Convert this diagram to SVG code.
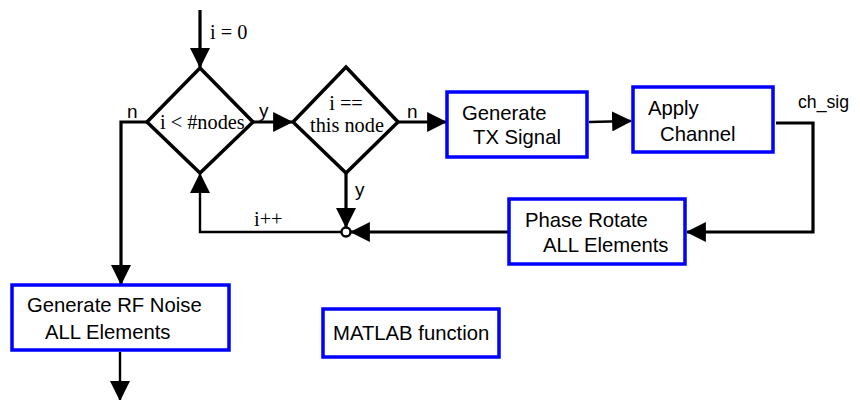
<svg xmlns="http://www.w3.org/2000/svg" width="860" height="400" viewBox="0 0 860 400">
<style>
.box{fill:#fff;stroke:#0000ff;stroke-width:3.5}
.dia{fill:#fff;stroke:#000;stroke-width:3.5;stroke-linejoin:miter}
.ln{fill:none;stroke:#000;stroke-width:3.2}
.thin{fill:none;stroke:#000;stroke-width:2.4}
.sans{font-family:"Liberation Sans",Arial,sans-serif;font-size:20.3px;fill:#000}
.lbl{font-family:"Liberation Sans",Arial,sans-serif;font-size:19px;fill:#000}
.serif{font-family:"Liberation Serif","Times New Roman",serif;font-size:20.3px;fill:#000}
</style>
<defs>
<marker id="ah" markerUnits="userSpaceOnUse" markerWidth="20" markerHeight="20" viewBox="0 0 18 18" refX="17" refY="9" orient="auto">
<path d="M0,0 L18,9 L0,18 z" fill="#000"/>
</marker>
</defs>
<rect width="860" height="400" fill="#fff"/>
<g id="connectors">
<path class="ln" d="M200,10 L200,67" marker-end="url(#ah)"/>
<path class="ln" d="M253,122 L292,122" marker-end="url(#ah)"/>
<path class="ln" d="M398,122 L446,122" marker-end="url(#ah)"/>
<path class="thin" d="M589,122 L631,121" marker-end="url(#ah)"/>
<path class="ln" d="M776,123 L813,123 L813,232 L687,232" marker-end="url(#ah)"/>
<path class="ln" d="M508,232 L351,232" marker-end="url(#ah)"/>
<path class="ln" d="M346,173 L346,227" marker-end="url(#ah)"/>
<path class="thin" d="M341,232 L200,232 L200,174" marker-end="url(#ah)"/>
<path class="ln" d="M147,122 L121,122 L121,284" marker-end="url(#ah)"/>
<path class="thin" d="M120,352 L120,400" marker-end="url(#ah)"/>
<circle cx="346" cy="232" r="4.5" fill="#fff" stroke="#000" stroke-width="2.5"/>
<text class="serif" x="210" y="39">i = 0</text>
<text class="lbl" x="127" y="118">n</text>
<text class="lbl" x="259" y="117">y</text>
<text class="lbl" x="407" y="118">n</text>
<text class="lbl" x="355" y="196">y</text>
<text class="serif" x="254" y="226">i++</text>
<text class="lbl" x="798" y="108" style="font-size:17.7px">ch_sig</text>
</g>
<g id="cond1">
<polygon class="dia" points="200,68 253,122 200,173 147,122"/>
<text class="serif" x="160" y="129">i &lt; #nodes</text>
</g>
<g id="cond2">
<polygon class="dia" points="346,67 398,122 346,173 293,122"/>
<text class="serif" x="346" y="110" text-anchor="middle">i ==</text>
<text class="serif" x="347" y="132" text-anchor="middle">this node</text>
</g>
<g id="gen_tx">
<rect class="box" x="447" y="92" width="140" height="65"/>
<text class="sans" x="462" y="120">Generate</text>
<text class="sans" x="473" y="144">TX Signal</text>
</g>
<g id="apply_channel">
<rect class="box" x="633" y="87" width="140" height="65"/>
<text class="sans" x="648" y="115">Apply</text>
<text class="sans" x="660" y="141">Channel</text>
</g>
<g id="phase_rotate">
<rect class="box" x="509" y="199" width="176" height="65"/>
<text class="sans" x="525" y="227">Phase Rotate</text>
<text class="sans" x="543" y="252">ALL Elements</text>
</g>
<g id="gen_rf_noise">
<rect class="box" x="12" y="285" width="217" height="65"/>
<text class="sans" x="27" y="312">Generate RF Noise</text>
<text class="sans" x="45" y="339">ALL Elements</text>
</g>
<g id="matlab_function">
<rect class="box" x="323" y="309" width="176" height="48"/>
<text class="sans" x="333" y="340">MATLAB function</text>
</g>
</svg>
